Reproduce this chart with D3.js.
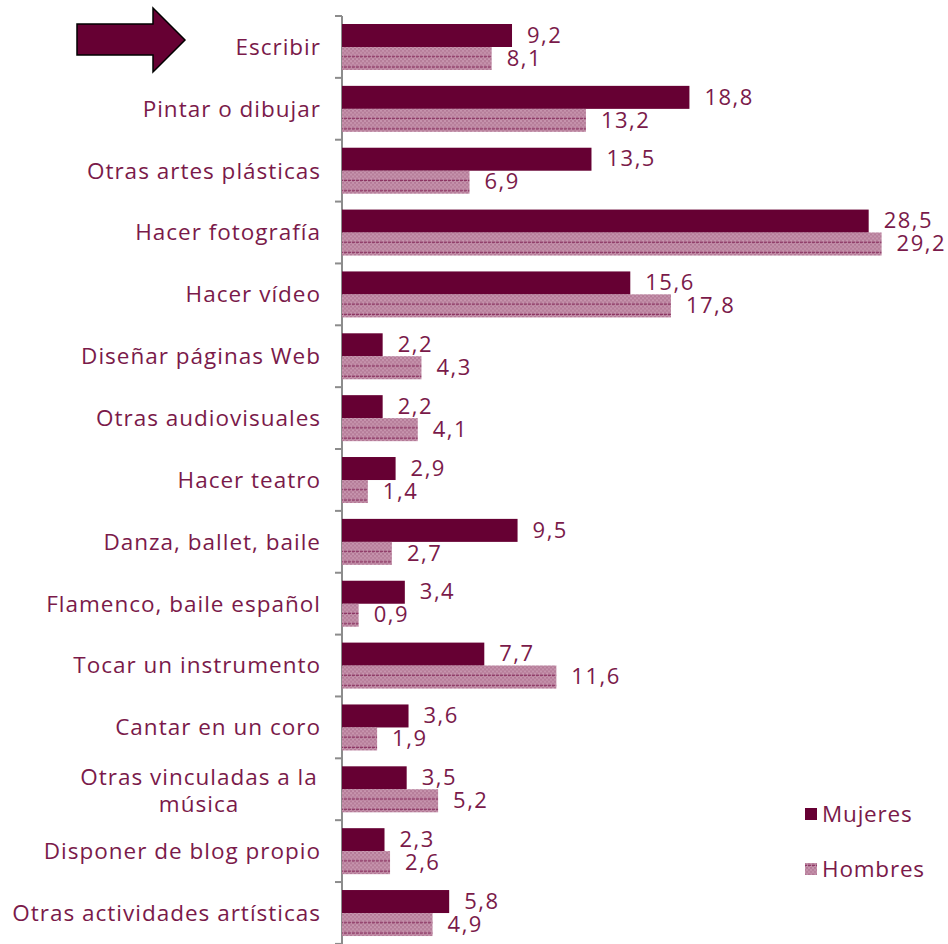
<!DOCTYPE html>
<html><head><meta charset="utf-8">
<script src="https://cdn.jsdelivr.net/npm/d3@7"></script>
<style>
html,body{margin:0;padding:0;background:#fff;}
svg{display:block;font-family:"Open Sans", Lato, sans-serif;}
</style></head>
<body>
<svg id="chart" width="948" height="944"></svg>
<script>
const categories = ["Escribir","Pintar o dibujar","Otras artes plásticas","Hacer fotografía","Hacer vídeo","Diseñar páginas Web","Otras audiovisuales","Hacer teatro","Danza, ballet, baile","Flamenco, baile español","Tocar un instrumento","Cantar en un coro","Otras vinculadas a la música","Disponer de blog propio","Otras actividades artísticas"];
const mujeres = [9.2,18.8,13.5,28.5,15.6,2.2,2.2,2.9,9.5,3.4,7.7,3.6,3.5,2.3,5.8];
const hombres = [8.1,13.2,6.9,29.2,17.8,4.3,4.1,1.4,2.7,0.9,11.6,1.9,5.2,2.6,4.9];
const seriesNames = ["Mujeres","Hombres"];
const labelLines = {"Otras vinculadas a la música":["Otras vinculadas a la","música"]};

const textColor = "#7a1a4a";
const darkColor = "#660033";
const svg = d3.select("#chart");
const defs = svg.append("defs");
const pat = defs.append("pattern").attr("id","hatch").attr("patternUnits","userSpaceOnUse")
  .attr("width",4).attr("height",61.86/6);
pat.append("rect").attr("width",4).attr("height",61.86/6).attr("fill","#c795ae");
for (let yy=0; yy<10; yy+=2) {
  pat.append("rect").attr("x", (yy/2)%2===0?0:2).attr("y",yy).attr("width",2).attr("height",1).attr("fill","#b27895");
  pat.append("rect").attr("x", (yy/2)%2===0?2:0).attr("y",yy+1).attr("width",2).attr("height",1).attr("fill","#b27895");
}
pat.append("rect").attr("x",0).attr("y",61.86/6-1.2).attr("width",3).attr("height",1.2).attr("fill","#8c3563");

const x = d3.scaleLinear().domain([0,30]).range([342, 342+30*18.48]);
const y = d3.scaleBand().domain(categories).range([16, 16+15*61.86]).paddingInner(0).paddingOuter(0);
const inner = d3.scaleBand().domain(seriesNames).range([8, 54]).padding(0);

// axis
const ag = svg.append("g").attr("transform","translate(342,0)");
ag.append("line").attr("x1",0).attr("x2",0).attr("y1",y.range()[0]).attr("y2",944).attr("stroke","#8c8c8c").attr("stroke-width",2);
const boundaries = categories.map(c=>y(c)).concat([y.range()[1]]);
ag.selectAll("line.tk").data(boundaries).join("line").attr("class","tk")
  .attr("x1",-7).attr("x2",0).attr("y1",d=>d).attr("y2",d=>d).attr("stroke","#8c8c8c").attr("stroke-width",2);

const rows = svg.append("g").selectAll("g").data(categories).join("g")
  .attr("transform",c=>`translate(0,${y(c)})`);

rows.append("rect").attr("x",x(0)).attr("y",inner("Mujeres"))
  .attr("width",(c,i)=>x(mujeres[i])-x(0)).attr("height",inner.bandwidth()).attr("fill",darkColor);
rows.append("rect").attr("x",x(0)).attr("y",inner("Hombres"))
  .attr("width",(c,i)=>x(hombres[i])-x(0)).attr("height",inner.bandwidth()).attr("fill","url(#hatch)");

const fmt = v => d3.format(".1f")(v).replace(".",",");
const valStyle = t => t.attr("dy","0.35em").attr("font-size",22).attr("letter-spacing",1.5).attr("fill",textColor);
rows.append("text").attr("x",(c,i)=>x(mujeres[i])+15).attr("y",inner("Mujeres")+inner.bandwidth()/2-0.5)
  .call(valStyle).text((c,i)=>fmt(mujeres[i]));
rows.append("text").attr("x",(c,i)=>x(hombres[i])+15).attr("y",inner("Hombres")+inner.bandwidth()/2-0.5)
  .call(valStyle).text((c,i)=>fmt(hombres[i]));

// category labels
rows.each(function(c){
  const g = d3.select(this);
  const lines = labelLines[c] || [c];
  const t = g.append("text").attr("font-size",22.5).attr("letter-spacing",1.0).attr("fill",textColor).attr("text-anchor", lines.length>1?"middle":"end");
  if (lines.length===1) {
    t.attr("x",321).attr("y",31).attr("dy","0.35em").text(c);
  } else {
    lines.forEach((l,k)=>{
      t.append("tspan").attr("x",199).attr("y",32.5+(k-0.5)*27).attr("dy","0.35em").text(l);
    });
  }
});

// arrow
svg.append("path").attr("d","M77,24 L153,24 L153,8 L185,40 L153,72 L153,55 L77,55 Z")
  .attr("fill",darkColor).attr("stroke","#000").attr("stroke-width",1.5);

// legend
const lg = svg.append("g");
const legendY = [814, 869];
seriesNames.forEach((s,i)=>{
  lg.append("rect").attr("x",805).attr("y",legendY[i]-6).attr("width",12).attr("height",12)
    .attr("fill", i===0?darkColor:"url(#hatch)");
  lg.append("text").attr("x",822).attr("y",legendY[i]).attr("dy","0.35em").attr("font-size",22.5).attr("letter-spacing",0.8).attr("fill",textColor).text(s);
});
</script>
</body></html>
